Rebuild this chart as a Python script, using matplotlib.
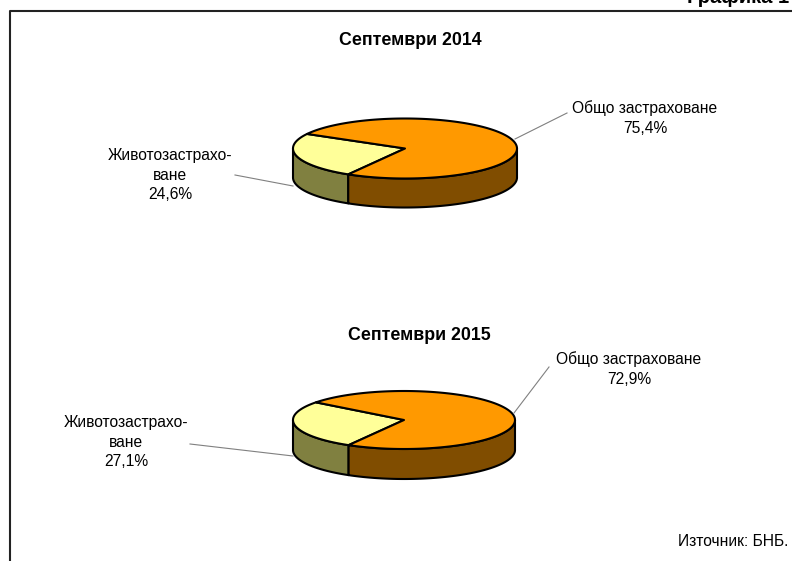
import numpy as np
import matplotlib
matplotlib.use('Agg')
import matplotlib.pyplot as plt
from matplotlib.patches import Polygon

titles = ['Септември 2014', 'Септември 2015']
life_share = [24.6, 27.1]
general_share = [75.4, 72.9]
life_label = 'Животозастрахо-\nване'
general_label = 'Общо застраховане'
source_text = 'Източник: БНБ.'
heading = 'Графика 1'

plt.rcParams['font.family'] = ['Liberation Sans', 'DejaVu Sans']

fig = plt.figure(figsize=(7.92, 5.61), dpi=100)
ax = fig.add_axes([0, 0, 1, 1])
ax.set_xlim(0, 792)
ax.set_ylim(561, 0)
ax.axis('off')


def ellipse_pts(cx, cy, rx, ry, a0, a1):
    t = np.radians(np.linspace(a0, a1, 200))
    return np.column_stack([cx + rx * np.cos(t), cy - ry * np.sin(t)])


def draw_pie(cx, cy, rx, ry, depth, start, life, general):
    life_end = start + life * 3.6
    end = life_end + general * 3.6

    # side walls, only the front half is visible
    for a0, a1, col in [(180, life_end, '#808040'), (life_end, 360, '#804D00')]:
        top = ellipse_pts(cx, cy, rx, ry, a0, a1)
        low = (top + [0, depth])[::-1]
        ax.add_patch(Polygon(np.vstack([top, low]), closed=True, fc=col, ec='black', lw=1.5, joinstyle='round'))

    # top face
    for a0, a1, col in [(start, life_end, '#FFFF99'), (life_end, end, '#FF9900')]:
        pts = ellipse_pts(cx, cy, rx, ry, a0, a1)
        pts = np.vstack([[cx, cy], pts])
        ax.add_patch(Polygon(pts, closed=True, fc=col, ec='black', lw=1.5, joinstyle='round'))


draw_pie(405, 148.5, 112, 30, 29, 151, life_share[0], general_share[0])
draw_pie(404, 420, 111, 29, 30, 142.5, life_share[1], general_share[1])

# frame
ax.plot([9.5, 9.5, 792], [561, 10.5, 10.5], color='#222222', lw=1.5, clip_on=False)
ax.text(687, 3, heading, ha='left', va='baseline', fontsize=14.5, fontweight='bold')

ax.text(410, 40, titles[0], ha='center', va='center', fontsize=12.75, fontweight='bold')
ax.text(419, 335, titles[1], ha='center', va='center', fontsize=12.75, fontweight='bold')

# leader lines
ax.plot([515, 567], [139, 113], color='#808080', lw=0.8)
ax.plot([293, 235], [186, 175], color='#808080', lw=0.8)
ax.plot([514, 549], [413, 367], color='#808080', lw=0.8)
ax.plot([293, 190], [456, 444], color='#808080', lw=0.8)

ax.text(645, 118, f'{general_label}\n{general_share[0]:.1f}%'.replace('.', ','), ha='center', va='center', fontsize=11.25, linespacing=1.4)
ax.text(170, 175, f'{life_label}\n{life_share[0]:.1f}%'.replace('.', ','), ha='center', va='center', fontsize=11.25, linespacing=1.4)
ax.text(629, 369, f'{general_label}\n{general_share[1]:.1f}%'.replace('.', ','), ha='center', va='center', fontsize=11.25, linespacing=1.4)
ax.text(126, 442, f'{life_label}\n{life_share[1]:.1f}%'.replace('.', ','), ha='center', va='center', fontsize=11.25, linespacing=1.4)

ax.text(788, 541, source_text, ha='right', va='center', fontsize=11.25)

fig.savefig('out.png', dpi=100)
